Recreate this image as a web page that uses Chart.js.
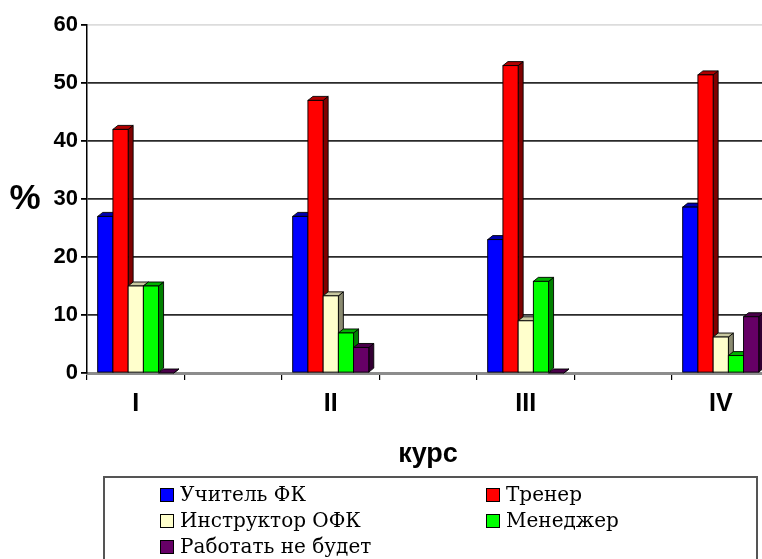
<!DOCTYPE html>
<html>
<head>
<meta charset="utf-8">
<script src="https://cdn.jsdelivr.net/npm/chart.js@4/dist/chart.umd.min.js"></script>
<style>
  html, body { margin: 0; padding: 0; background: #fff; overflow: hidden; width: 762px; height: 559px; }
  #wrap { position: absolute; left: 0; top: 0; width: 870px; height: 559px; }
</style>
</head>
<body>
<div id="wrap"><canvas id="c"></canvas></div>
<script>
// ---- data ----
const categories = ['I', '', 'II', '', 'III', '', 'IV', ''];
const seriesNames = ['Учитель ФК', 'Тренер', 'Инструктор ОФК', 'Менеджер', 'Работать не будет'];
const teacherPE  = [27,   null, 27,   null, 23,  null, 28.6, null];
const coach      = [42,   null, 47,   null, 53,  null, 51.4, null];
const instructor = [15,   null, 13.3, null, 9,   null, 6.2,  null];
const manager    = [15,   null, 6.9,  null, 15.8, null, 3,   null];
const notWork    = [0,    null, 4.4,  null, 0,   null, 9.7,  null];
const yTicks = [0, 10, 20, 30, 40, 50, 60];
const yTitle = '%';
const xTitle = 'курс';

// ---- styles ----
const fronts = ['#0000FF', '#FF0000', '#FFFFCC', '#00FF00', '#660066'];
const sides  = ['#000080', '#800000', '#8a8a70', '#008000', '#330033'];
const tops   = ['#0000B0', '#B00000', '#c8c8a0', '#00B000', '#4a004a'];
const seriesData = [teacherPE, coach, instructor, manager, notWork];

const datasets = seriesData.map((d, i) => ({
  label: seriesNames[i],
  data: d,
  backgroundColor: fronts[i],
  borderColor: '#000',
  borderWidth: 0,
  categoryPercentage: 0.78,
  barPercentage: 1.0
}));

const DX = 5, DY = -4;

const bars3d = {
  id: 'bars3d',
  afterDatasetsDraw(chart) {
    const ctx = chart.ctx;
    ctx.save();
    ctx.lineJoin = 'miter';
    chart.data.datasets.forEach((ds, di) => {
      const meta = chart.getDatasetMeta(di);
      meta.data.forEach((bar, i) => {
        if (ds.data[i] == null) return;
        const p = bar.getProps(['x', 'y', 'base', 'width'], true);
        const x0 = p.x - p.width / 2, x1 = p.x + p.width / 2;
        const yt = Math.min(p.y, p.base), yb = Math.max(p.y, p.base);
        ctx.lineWidth = 0.9;
        ctx.strokeStyle = '#000';
        // side face
        ctx.beginPath();
        ctx.moveTo(x1, yt); ctx.lineTo(x1 + DX, yt + DY);
        ctx.lineTo(x1 + DX, yb + DY); ctx.lineTo(x1, yb); ctx.closePath();
        ctx.fillStyle = sides[di]; ctx.fill(); ctx.stroke();
        // top face
        ctx.beginPath();
        ctx.moveTo(x0, yt); ctx.lineTo(x0 + DX, yt + DY);
        ctx.lineTo(x1 + DX, yt + DY); ctx.lineTo(x1, yt); ctx.closePath();
        ctx.fillStyle = tops[di]; ctx.fill(); ctx.stroke();
        // front face
        if (yb - yt > 0) {
          ctx.fillStyle = fronts[di];
          ctx.fillRect(x0, yt, x1 - x0, yb - yt);
          ctx.strokeRect(x0, yt, x1 - x0, yb - yt);
        }
      });
    });
    ctx.restore();
  },
  afterDraw(chart) {
    const ctx = chart.ctx;
    ctx.save();
    // y title
    ctx.fillStyle = '#000';
    ctx.font = 'bold 35px "Liberation Sans", Arial, sans-serif';
    ctx.textAlign = 'center';
    ctx.textBaseline = 'middle';
    ctx.fillText(yTitle, 25, 199);
    // x title
    ctx.font = 'bold 27px "Liberation Sans", Arial, sans-serif';
    ctx.fillText(xTitle, 428, 455);
    // legend box
    ctx.strokeStyle = '#555';
    ctx.lineWidth = 2;
    ctx.strokeRect(104, 477, 653, 100);
    const pos = [[160, 495], [486, 495], [160, 521], [486, 521], [160, 547]];
    ctx.font = '20px "DejaVu Serif", serif';
    ctx.textAlign = 'left';
    chart.data.datasets.forEach((ds, i) => {
      const [sx, sy] = pos[i];
      ctx.fillStyle = ds.backgroundColor;
      ctx.fillRect(sx, sy - 7, 14, 14);
      ctx.lineWidth = 1;
      ctx.strokeStyle = '#000';
      ctx.strokeRect(sx + 0.5, sy - 6.5, 13, 13);
      ctx.fillStyle = '#000';
      ctx.textBaseline = 'middle';
      ctx.fillText(ds.label, sx + 20, sy + 1);
    });
    ctx.restore();
  }
};

new Chart(document.getElementById('c'), {
  type: 'bar',
  data: { labels: categories, datasets },
  options: {
    responsive: true,
    maintainAspectRatio: false,
    animation: false,
    layout: { padding: { top: 25, right: 3, left: 0, bottom: 0 } },
    plugins: { legend: { display: false }, tooltip: { enabled: false } },
    scales: {
      x: {
        offset: true,
        afterFit(s) { s.height = 186; },
        grid: {
          display: true, drawOnChartArea: false, offset: true,
          tickLength: 7, color: '#000', lineWidth: 1.2
        },
        border: { display: true, color: '#8c8c8c', width: 3 },
        ticks: {
          autoSkip: false, maxRotation: 0, padding: 9,
          color: '#000',
          font: { family: '"Liberation Sans", Arial, sans-serif', size: 25, weight: 'bold' }
        }
      },
      y: {
        min: 0, max: 60,
        afterFit(s) { s.width = 87; },
        afterBuildTicks(s) { s.ticks = yTicks.map(v => ({ value: v })); },
        grid: {
          color: c => c.tick && c.tick.value === 60 ? '#dcdcdc' : (c.tick && c.tick.value === 0 ? 'rgba(0,0,0,0)' : '#2a2a2a'),
          lineWidth: 1.8,
          tickColor: '#000',
          tickLength: 6
        },
        border: { display: true, color: '#000', width: 1.5 },
        ticks: {
          padding: 3,
          color: '#000',
          font: { family: '"Liberation Sans", Arial, sans-serif', size: 22, weight: 'bold' }
        }
      }
    }
  },
  plugins: [bars3d]
});
</script>
</body>
</html>
